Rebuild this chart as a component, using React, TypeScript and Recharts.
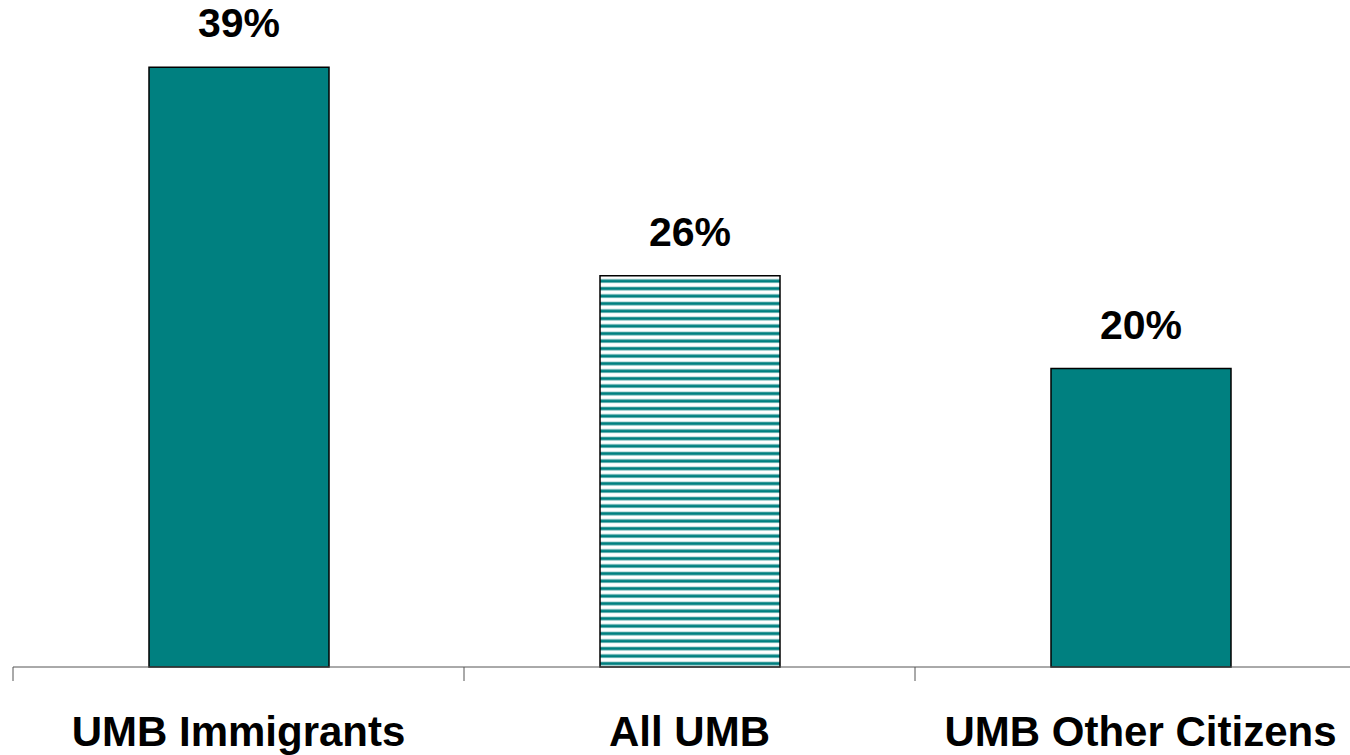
// Bar chart: share by group, with a hatched middle bar
import { BarChart, Bar, XAxis, YAxis, Cell, LabelList } from 'recharts';

const categories = ['UMB Immigrants', 'All UMB', 'UMB Other Citizens'];
const values = [39.4, 25.7, 19.6];
const fills = ['#008080', 'url(#hatch)', '#008080'];
const yTicks = [0, 40];

const chartData = categories.map((name, i) => ({ name, value: values[i] }));

const WIDTH = 1380;
const LEFT = 13;
const RIGHT = 14;
const BAND = (WIDTH - LEFT - RIGHT) / categories.length;

const FONT = '"Liberation Sans", Arial, Helvetica, sans-serif';

function CategoryTick(props: any) {
  const { x, y, payload } = props;
  const left = x - BAND / 2;
  return (
    <g>
      <line x1={left} y1={y} x2={left} y2={y + 14} stroke="#555" strokeWidth={1} />
      <text
        x={x}
        y={y + 79}
        textAnchor="middle"
        fontFamily={FONT}
        fontWeight="bold"
        fontSize={42}
        fill="#000"
      >
        {payload.value}
      </text>
    </g>
  );
}

export default function App() {
  return (
    <div style={{ position: 'fixed', left: 0, top: 0, width: 1350, height: 755, overflow: 'hidden', background: '#fff' }}>
      <BarChart
        width={WIDTH}
        height={755}
        data={chartData}
        margin={{ top: 58, right: RIGHT, left: LEFT, bottom: 0 }}
      >
        <defs>
          <pattern id="hatch" width="10" height="7.5" patternUnits="userSpaceOnUse">
            <rect x="0" y="0" width="10" height="7.5" fill="#fff" />
            <rect x="0" y="1.5" width="10" height="4" fill="#a8d0d0" />
            <rect x="0" y="2.2" width="10" height="2.8" fill="#008080" />
          </pattern>
        </defs>
        <XAxis
          dataKey="name"
          height={88}
          interval={0}
          tickLine={false}
          tickSize={0}
          tickMargin={0}
          axisLine={{ stroke: '#555', strokeWidth: 1 }}
          tick={<CategoryTick />}
        />
        <YAxis hide domain={[yTicks[0], yTicks[1]]} />
        <Bar dataKey="value" barSize={180} stroke="#000" strokeWidth={1.5} isAnimationActive={false}>
          {chartData.map((d, i) => (
            <Cell key={d.name} fill={fills[i]} />
          ))}
          <LabelList
            dataKey="value"
            position="top"
            offset={30}
            formatter={(v: any) => `${Math.round(Number(v))}%`}
            style={{ fontFamily: FONT, fontWeight: 'bold', fontSize: 41, fill: '#000' }}
          />
        </Bar>
      </BarChart>
    </div>
  );
}
